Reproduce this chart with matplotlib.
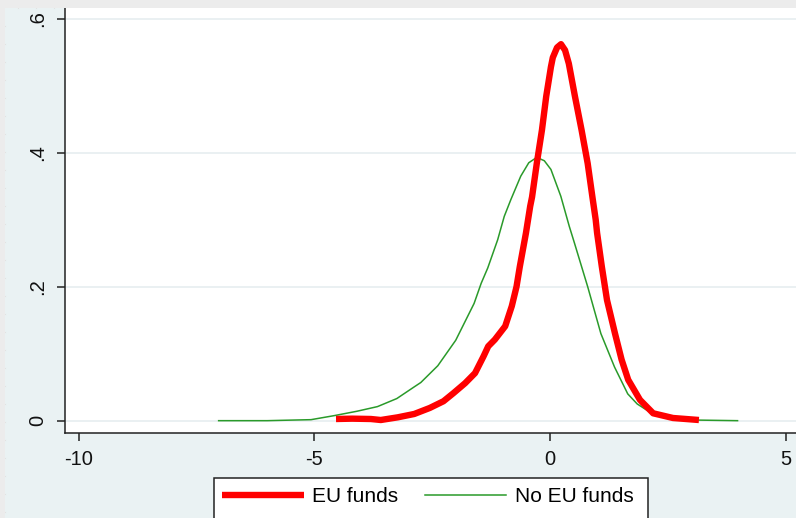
import matplotlib
matplotlib.use("Agg")
import matplotlib.pyplot as plt
from matplotlib.patches import Rectangle
from matplotlib.lines import Line2D

# Kernel density estimates (x = value, y = density)
eu_x = [-4.54, -4.2, -3.8, -3.59, -3.23, -2.88, -2.55, -2.26, -2.05, -1.80,
        -1.59, -1.41, -1.31, -1.17, -0.95, -0.81, -0.71, -0.64, -0.51, -0.42,
        -0.38, -0.28, -0.17, -0.08, 0.02, 0.06, 0.15, 0.234, 0.32, 0.40,
        0.53, 0.67, 0.80, 0.90, 0.97, 1.0, 1.10, 1.21, 1.38, 1.52,
        1.66, 1.91, 2.19, 2.61, 3.16]
eu_y = [0.0025, 0.003, 0.0025, 0.001, 0.005, 0.010, 0.019, 0.029, 0.041, 0.056,
        0.071, 0.096, 0.111, 0.121, 0.141, 0.171, 0.200, 0.230, 0.280, 0.320,
        0.334, 0.384, 0.434, 0.484, 0.528, 0.542, 0.557, 0.562, 0.553, 0.533,
        0.484, 0.434, 0.384, 0.334, 0.300, 0.280, 0.230, 0.180, 0.130, 0.091,
        0.061, 0.031, 0.011, 0.004, 0.001]

no_eu_x = [-7.03, -6.0, -5.7, -5.07, -4.58, -4.1, -3.66, -3.25, -2.89, -2.74,
           -2.38, -2.0, -1.61, -1.46, -1.32, -1.11, -0.97, -0.83, -0.62, -0.45,
           -0.28, -0.12, 0.02, 0.23, 0.41, 0.52, 0.80, 1.08, 1.37, 1.65,
           1.85, 2.07, 2.5, 3.0, 3.98]
no_eu_y = [0.000, 0.000, 0.0005, 0.0015, 0.0075, 0.014, 0.021, 0.033, 0.050, 0.057,
           0.082, 0.120, 0.175, 0.205, 0.228, 0.270, 0.305, 0.330, 0.365, 0.385,
           0.393, 0.388, 0.375, 0.335, 0.290, 0.265, 0.200, 0.130, 0.080, 0.040,
           0.025, 0.015, 0.005, 0.001, 0.000]

x_ticks = [-10, -5, 0, 5]
x_labels = ["-10", "-5", "0", "5"]
y_ticks = [0, 0.2, 0.4, 0.6]
y_labels = ["0", ".2", ".4", ".6"]
series_labels = ["EU funds", "No EU funds"]

plt.rcParams["font.family"] = ["Liberation Sans", "DejaVu Sans"]

W, H = 796, 518
fig = plt.figure(figsize=(W / 100, H / 100), dpi=100, facecolor="#eaf2f3")

# page strips along the top and left edges
strip = "#ececec"
fig.patches.append(Rectangle((0, 1 - 8 / H), 1, 8 / H, transform=fig.transFigure,
                             facecolor=strip, edgecolor="none", zorder=0))
fig.patches.append(Rectangle((0, 0), 5 / W, 1, transform=fig.transFigure,
                             facecolor=strip, edgecolor="none", zorder=0))
for px in range(18, W, 18):
    fig.add_artist(Line2D([px / W, px / W], [1 - 8 / H, 1], transform=fig.transFigure,
                          color="#e2e2e2", lw=0.8, zorder=0))
for py in range(26, H, 18):
    fig.add_artist(Line2D([0, 5 / W], [1 - py / H, 1 - py / H], transform=fig.transFigure,
                          color="#e2e2e2", lw=0.8, zorder=0))

ax = fig.add_axes([65 / W, 1 - 433 / H, (W - 65) / W, (433 - 8) / H])
ax.set_facecolor("white")
ax.set_xlim(-10.29, 5.22)
ax.set_ylim(-0.0184, 0.616)

for y in y_ticks:
    ax.axhline(y, color="#e6eef0", lw=1.2, zorder=1)

red_line, = ax.plot(eu_x, eu_y, color="#ff0000", lw=4.6, solid_capstyle="butt",
                    solid_joinstyle="round", zorder=3, label=series_labels[0])
green_line, = ax.plot(no_eu_x, no_eu_y, color="#2a9a2a", lw=1.1, zorder=2,
                      label=series_labels[1])

for side in ("top", "right"):
    ax.spines[side].set_visible(False)
for side in ("left", "bottom"):
    ax.spines[side].set_color("#222222")
    ax.spines[side].set_linewidth(1.1)

ax.set_xticks(x_ticks)
ax.set_xticklabels(x_labels)
ax.set_yticks(y_ticks)
ax.set_yticklabels(y_labels, rotation=90, va="center")
ax.tick_params(axis="x", length=6, width=1.1, color="#222222", pad=6,
               labelsize=14.5, labelcolor="#111111")
ax.tick_params(axis="y", length=6, width=1.1, color="#222222", pad=7,
               labelsize=14.5, labelcolor="#111111")

# legend box: taller than the figure's bottom margin, so its lower edge runs off
fig.patches.append(Rectangle((214 / W, -20 / H), (648 - 214) / W, (20 + 518 - 478) / H,
                             transform=fig.transFigure, facecolor="white",
                             edgecolor="#222222", linewidth=1.1, zorder=4))
leg = fig.legend(handles=[red_line, green_line], labels=series_labels,
                 loc="center left", bbox_to_anchor=(214 / W, 1 - 497 / H),
                 bbox_transform=fig.transFigure, ncol=2, fontsize=15,
                 frameon=False, handlelength=3.9, handletextpad=0.4,
                 columnspacing=1.3, borderpad=0.4, borderaxespad=0)
leg.set_zorder(5)

fig.savefig("out.png", dpi=100, facecolor=fig.get_facecolor())
